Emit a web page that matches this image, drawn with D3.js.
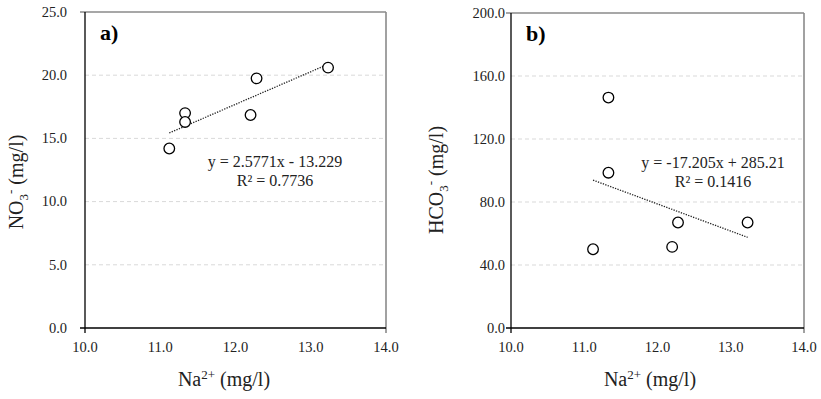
<!DOCTYPE html>
<html><head><meta charset="utf-8">
<script src="https://cdn.jsdelivr.net/npm/d3@7"></script>
<style>
body{margin:0;background:#fff;}
svg text, svg tspan{font-family:"Liberation Serif","Times New Roman",Times,serif !important;}
</style></head>
<body><svg id="chart" width="821" height="399" font-family="Times New Roman"></svg>
<script>
// Data
const naValues   = [11.12, 11.33, 11.33, 12.20, 12.28, 13.23];
const no3Values  = [14.2, 17.0, 16.3, 16.85, 19.75, 20.6];
const hco3Values = [50.0, 146.3, 98.6, 51.5, 67.0, 67.0];
const xTicks     = [10, 11, 12, 13, 14];
const yTicksA    = [0, 5, 10, 15, 20, 25];
const yTicksB    = [0, 40, 80, 120, 160, 200];
const trendA     = {slope: 2.5771, intercept: -13.229};
const trendB     = {slope: -17.205, intercept: 285.21};
const eqTextA    = ["y = 2.5771x - 13.229", "R² = 0.7736"];
const eqTextB    = ["y = -17.205x + 285.21", "R² = 0.1416"];

const FONT = "Times New Roman";
const svg = d3.select("#chart");
const fmt = d3.format(".1f");

function label(g, x, y, size, txt){
  return g.append("text").attr("x", x).attr("y", y)
    .attr("font-family", FONT).attr("font-size", size).attr("fill", "#222").text(txt);
}

function panel(cfg){
  const x = d3.scaleLinear().domain([10,14]).range([cfg.left, cfg.right]);
  const y = d3.scaleLinear().domain([cfg.yTicks[0], cfg.yTicks[cfg.yTicks.length-1]]).range([cfg.bottom, cfg.top]);
  const g = svg.append("g");

  // gridlines
  g.selectAll(".grid").data(cfg.yTicks.slice(1, -1)).enter().append("line")
    .attr("x1", x(10)).attr("x2", x(14))
    .attr("y1", d => y(d)).attr("y2", d => y(d))
    .attr("stroke", "#d9d9d9").attr("stroke-width", 1).attr("stroke-dasharray", "4,3");

  // y tick labels
  cfg.yTicks.forEach(v => {
    label(g, x(10) - cfg.yPad, y(v), 14.5, fmt(v))
      .attr("text-anchor", "end").attr("dy", "0.33em");
  });
  // x tick labels
  xTicks.forEach(v => {
    label(g, x(v), y(cfg.yTicks[0]) + 24, 14.5, fmt(v)).attr("text-anchor", "middle");
  });

  const y0 = y(cfg.yTicks[0]), y1 = y(cfg.yTicks[cfg.yTicks.length-1]);
  g.append("line").attr("x1", x(10)-5).attr("x2", x(14)).attr("y1", y1).attr("y2", y1)
    .attr("stroke", "#8a8a8a").attr("stroke-width", 1.6);
  g.append("line").attr("x1", x(14)).attr("x2", x(14)).attr("y1", y1).attr("y2", y0+5)
    .attr("stroke", "#8a8a8a").attr("stroke-width", 1.6);
  g.append("line").attr("x1", x(10)).attr("x2", x(10)).attr("y1", y1).attr("y2", y0+5)
    .attr("stroke", "#000").attr("stroke-width", 1.3);
  g.append("line").attr("x1", x(10)-5).attr("x2", x(14)).attr("y1", y0).attr("y2", y0)
    .attr("stroke", "#000").attr("stroke-width", 1.3);

  // trendline
  const xmin = d3.min(naValues), xmax = d3.max(naValues);
  g.append("line")
    .attr("x1", x(xmin)).attr("y1", y(cfg.trend.slope*xmin + cfg.trend.intercept))
    .attr("x2", x(xmax)).attr("y2", y(cfg.trend.slope*xmax + cfg.trend.intercept))
    .attr("stroke", "#222").attr("stroke-width", 1.3).attr("stroke-dasharray", "1.3,1.3");

  // points
  g.selectAll(".pt").data(naValues.map((v,i)=>[v, cfg.values[i]])).enter().append("circle")
    .attr("cx", d => x(d[0])).attr("cy", d => y(d[1])).attr("r", 5.3)
    .attr("fill", "#fff").attr("stroke", "#000").attr("stroke-width", 1.3);

  // equation
  cfg.eq.forEach((t,i) => {
    label(g, cfg.eqX, cfg.eqY + i*19, 16, t).attr("text-anchor", "middle");
  });

  // panel label
  label(g, cfg.labX, cfg.labY, 22, cfg.label).attr("font-weight", "bold").attr("fill", "#000");

  // x title
  const xt = label(g, cfg.xTitleX, 386, 20, null).attr("text-anchor", "middle");
  xt.append("tspan").text("Na");
  xt.append("tspan").attr("font-size", 13).attr("dy", -7).text("2+");
  xt.append("tspan").attr("dy", 7).text(" (mg/l)");

  // y title
  const yt = label(g, 0, 0, 20, null)
    .attr("transform", `translate(${cfg.yTitleX},${cfg.yTitleY}) rotate(-90)`)
    .attr("text-anchor", "middle");
  yt.append("tspan").text(cfg.yName);
  yt.append("tspan").attr("font-size", 13).attr("dy", 5).text("3");
  yt.append("tspan").attr("font-size", 13).attr("dy", -13).text("-");
  yt.append("tspan").attr("dy", 8).text(" (mg/l)");
}

panel({left:85, right:386, top:12, bottom:328, yTicks:yTicksA, values:no3Values, trend:trendA,
  eq:eqTextA, eqX:275, eqY:167, label:"a)", labX:100, labY:40, yPad:18,
  xTitleX:224, yTitleX:23, yTitleY:182, yName:"NO"});
panel({left:511, right:804, top:13, bottom:328, yTicks:yTicksB, values:hco3Values, trend:trendB,
  eq:eqTextB, eqX:713, eqY:168, label:"b)", labX:526, labY:41, yPad:6,
  xTitleX:650, yTitleX:443, yTitleY:180, yName:"HCO"});
</script></body></html>
